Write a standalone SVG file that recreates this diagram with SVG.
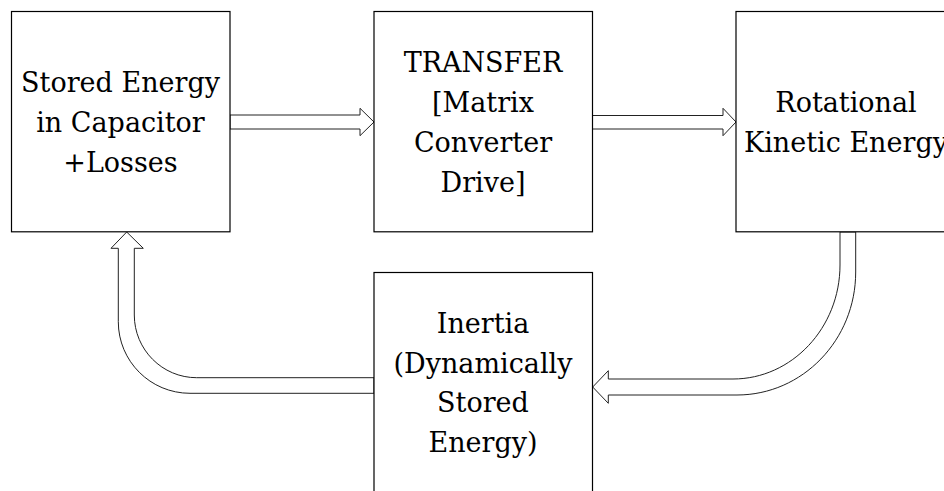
<svg xmlns="http://www.w3.org/2000/svg" width="944" height="491" viewBox="0 0 944 491">
<style>
.box{fill:#fff;stroke:#000;stroke-width:1.2}
.arr{fill:#fff;stroke:#222;stroke-width:1}
.t{font-family:"DejaVu Serif","Liberation Serif",serif;font-size:27px;fill:#000;text-anchor:middle}
</style>
<rect width="944" height="491" fill="#fff"/>
<g id="connectors">
<path class="arr" d="M230,115 H360 V108.3 L374,122 L360,135.7 V129 H230 Z"/>
<path class="arr" d="M592.5,115.5 H723 V108.3 L736,122 L723,135.7 V129 H592.5 Z"/>
<path class="arr" d="M840,232 V265 C840,327.7 791.9,379 733,379 H608.3 V370.7 L592.7,387 L608.3,403.3 V395 H737 C802.5,395 855.7,339.9 855.7,272 V232 Z"/>
<path class="arr" d="M374,393.3 H190 C150.4,393.3 118.3,361.2 118.3,321.7 V248.3 H111 L126.7,232 L143.3,248.3 H134.3 V315 C134.3,349.6 162.3,377.7 196.7,377.7 H374 Z"/>
</g>
<g id="node-capacitor">
<rect class="box" x="11.5" y="11.5" width="218.5" height="220.3"/>
<text class="t" x="120.5" y="91.5">Stored Energy</text>
<text class="t" x="120.5" y="131.5">in Capacitor</text>
<text class="t" x="120.5" y="171.5">+Losses</text>
</g>
<g id="node-transfer">
<rect class="box" x="374" y="11.5" width="218.5" height="220.3"/>
<text class="t" x="483" y="71.5">TRANSFER</text>
<text class="t" x="483" y="111.5">[Matrix</text>
<text class="t" x="483" y="151.5">Converter</text>
<text class="t" x="483" y="191.5">Drive]</text>
</g>
<g id="node-rotational">
<rect class="box" x="736" y="11.5" width="220" height="220.3"/>
<text class="t" x="846" y="111.5">Rotational</text>
<text class="t" x="846" y="151.5">Kinetic Energy</text>
</g>
<g id="node-inertia">
<rect class="box" x="374" y="272.5" width="218.5" height="230"/>
<text class="t" x="483" y="332.5">Inertia</text>
<text class="t" x="483" y="372.5">(Dynamically</text>
<text class="t" x="483" y="412">Stored</text>
<text class="t" x="483" y="452">Energy)</text>
</g>
</svg>
